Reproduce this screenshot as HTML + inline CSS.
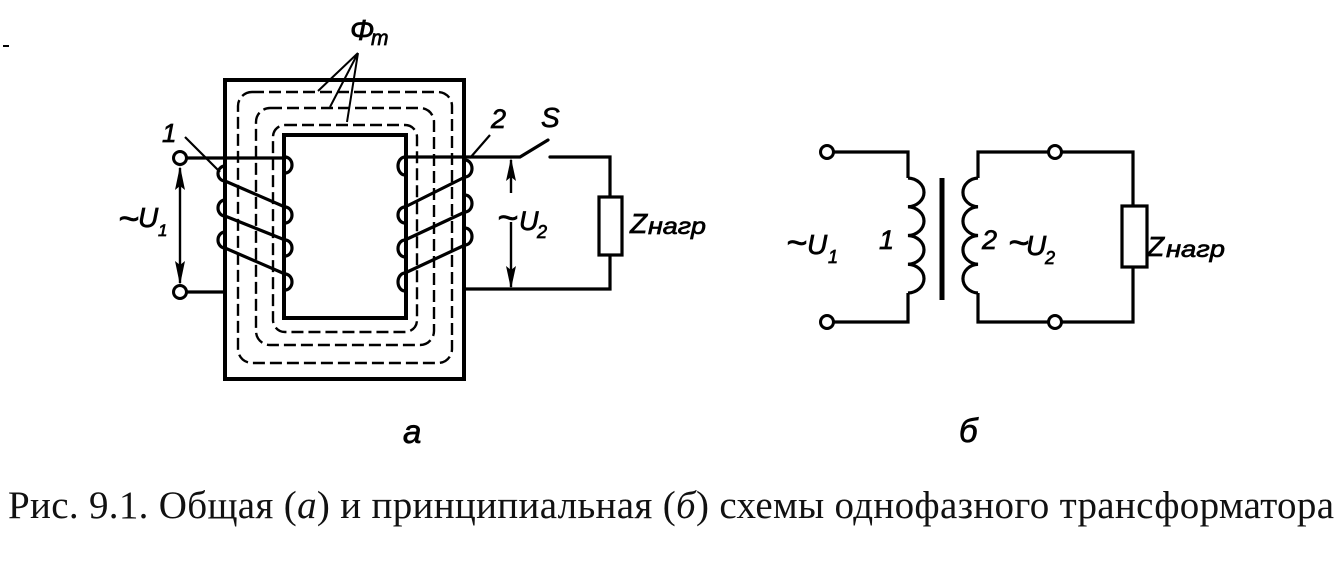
<!DOCTYPE html>
<html>
<head>
<meta charset="utf-8">
<style>
html,body{margin:0;padding:0;background:#fff;}
svg{display:block;}
.l{font-family:"Liberation Sans","DejaVu Sans",sans-serif;font-style:italic;fill:#000;stroke:#000;stroke-width:0.7;}
.c{font-family:"Liberation Serif","DejaVu Serif",serif;fill:#111;}
</style>
</head>
<body>
<svg width="1343" height="561" viewBox="0 0 1343 561" xmlns="http://www.w3.org/2000/svg">
<rect width="1343" height="561" fill="#fff"/>

<!-- ===== Diagram a ===== -->
<g fill="none" stroke="#000" stroke-width="2.4" stroke-dasharray="12 5">
  <rect x="238" y="92" width="214" height="271" rx="14"/>
  <rect x="256" y="108" width="178" height="237" rx="14"/>
  <rect x="273" y="125" width="144" height="207" rx="12"/>
</g>
<rect x="225" y="80" width="239" height="299" fill="none" stroke="#000" stroke-width="4"/>
<rect x="284" y="135" width="122" height="183" fill="#fff" stroke="#000" stroke-width="4"/>

<g stroke="#000" stroke-width="2" fill="none">
  <path d="M358,53 L318,91 M358,53 L330,107 M358,53 L347,122"/>
</g>

<g fill="none" stroke="#000" stroke-width="3.2" stroke-linecap="round">
  <path d="M187,158 H285"/>
  <path d="M187,292 H225"/>
  <path d="M285,157 A7,8 0 0 1 285,173"/>
  <path d="M285,207 A7,8 0 0 1 285,223"/>
  <path d="M285,240 A7,8 0 0 1 285,256"/>
  <path d="M285,274 A7,8 0 0 1 285,290"/>
  <path d="M225,166 A7,7.5 0 0 0 225,181"/>
  <path d="M225,200 A7,8 0 0 0 225,216"/>
  <path d="M225,232 A7,8 0 0 0 225,248"/>
  <path d="M225,181 L285,207 M225,216 L285,240 M225,248 L285,274"/>

  <path d="M405,157 A7,9 0 0 0 405,175"/>
  <path d="M405,207 A7,8 0 0 0 405,223"/>
  <path d="M405,240 A7,8.5 0 0 0 405,257"/>
  <path d="M405,273 A7,9 0 0 0 405,291"/>
  <path d="M465,160 A7,8.5 0 0 1 465,177"/>
  <path d="M465,195 A7,8.5 0 0 1 465,212"/>
  <path d="M465,228 A7,8.5 0 0 1 465,245"/>
  <path d="M405,207 L465,177 M405,240 L465,212 M405,273 L465,245"/>

  <path d="M405,157 H520 L548,140"/>
  <path d="M550,157 H610 V197"/>
  <path d="M610,255 V289 H465"/>
</g>
<rect x="599" y="197" width="23" height="58" fill="#fff" stroke="#000" stroke-width="3.2"/>

<path d="M185,137 L220,172 M470,158 L490,135" stroke="#000" stroke-width="2.2" fill="none"/>

<g fill="#fff" stroke="#000" stroke-width="3">
  <circle cx="180" cy="158" r="6.5"/>
  <circle cx="180" cy="292" r="6.5"/>
</g>

<path d="M180,168 V283" stroke="#000" stroke-width="2.4"/>
<path d="M180,166 L175,190 L180,186 L185,190 Z M180,285 L175,261 L180,265 L185,261 Z" fill="#000"/>
<path d="M511,160 V193 M511,222 V287" stroke="#000" stroke-width="2.4"/>
<path d="M511,158 L506,181 L511,177 L516,181 Z M511,289 L506,266 L511,270 L516,266 Z" fill="#000"/>

<text class="l" x="350" y="40" font-size="29">Φ</text>
<text class="l" x="371" y="45" font-size="21">m</text>
<text class="l" x="162" y="142" font-size="26">1</text>
<text class="l" x="118" y="231" font-size="36">~</text>
<text class="l" x="138" y="227" font-size="28">U</text>
<text class="l" x="158" y="236" font-size="17">1</text>
<text class="l" x="491" y="128" font-size="27">2</text>
<text class="l" x="541" y="127" font-size="28">S</text>
<text class="l" x="497" y="230" font-size="36">~</text>
<text class="l" x="519" y="230" font-size="27">U</text>
<text class="l" x="537" y="238" font-size="18">2</text>
<text class="l" x="630" y="233" font-size="28">Z</text>
<text class="l" x="648" y="234" font-size="23" textLength="58" lengthAdjust="spacingAndGlyphs">нагр</text>

<!-- ===== Diagram б ===== -->
<g fill="none" stroke="#000" stroke-width="3.2">
  <path d="M834,152 H908 V178"/>
  <path d="M908,178 A17,14.4 0 0 1 908,206.75 A17,14.4 0 0 1 908,235.5 A17,14.4 0 0 1 908,264.25 A17,14.4 0 0 1 908,293"/>
  <path d="M908,293 V322 H834"/>
  <path d="M978,178 V152 H1049"/>
  <path d="M978,178 A16,14.4 0 0 0 978,206.75 A16,14.4 0 0 0 978,235.5 A16,14.4 0 0 0 978,264.25 A16,14.4 0 0 0 978,293"/>
  <path d="M978,293 V322 H1049"/>
  <path d="M1061,152 H1133 V206"/>
  <path d="M1133,267 V322 H1061"/>
</g>
<path d="M942,178 V300" stroke="#000" stroke-width="5"/>
<rect x="1122" y="206" width="25" height="61" fill="#fff" stroke="#000" stroke-width="3.2"/>
<g fill="#fff" stroke="#000" stroke-width="3">
  <circle cx="827" cy="152" r="6.5"/>
  <circle cx="827" cy="322" r="6.5"/>
  <circle cx="1055" cy="152" r="6.5"/>
  <circle cx="1055" cy="322" r="6.5"/>
</g>

<text class="l" x="786" y="255" font-size="36">~</text>
<text class="l" x="807" y="254" font-size="28">U</text>
<text class="l" x="828" y="263" font-size="18">1</text>
<text class="l" x="879" y="249" font-size="27">1</text>
<text class="l" x="982" y="249" font-size="27">2</text>
<text class="l" x="1008" y="255" font-size="36">~</text>
<text class="l" x="1026" y="255" font-size="28">U</text>
<text class="l" x="1045" y="264" font-size="18">2</text>
<text class="l" x="1147" y="256" font-size="28">Z</text>
<text class="l" x="1166" y="257" font-size="23" textLength="59" lengthAdjust="spacingAndGlyphs">нагр</text>

<text class="l" x="403" y="443" font-size="33">а</text>
<text class="l" x="959" y="442" font-size="33">б</text>

<text class="c" x="8" y="518" font-size="39" textLength="1326" lengthAdjust="spacing">Рис. 9.1. Общая (<tspan font-style="italic">а</tspan>) и принципиальная (<tspan font-style="italic">б</tspan>) схемы однофазного трансформатора</text>

<rect x="3" y="45" width="6" height="2" fill="#000"/>
</svg>
</body>
</html>
